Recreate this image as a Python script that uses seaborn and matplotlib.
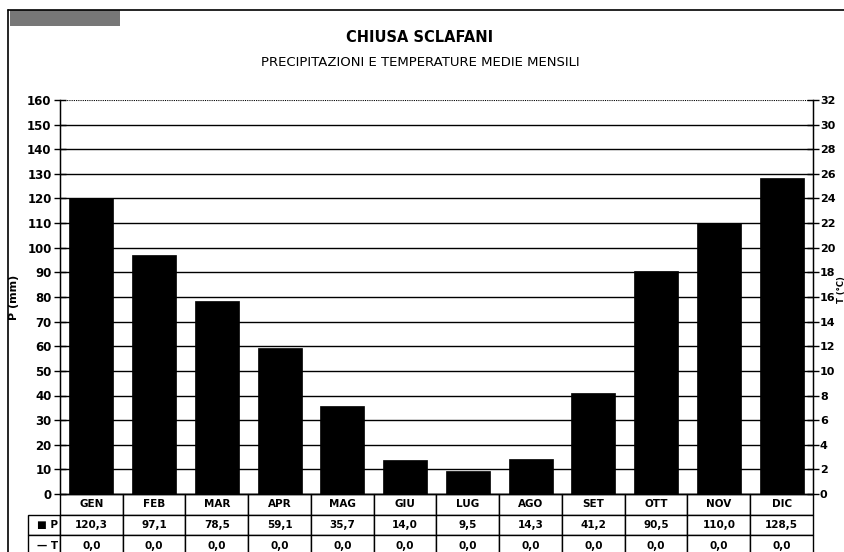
import matplotlib.pyplot as plt
import matplotlib.lines as mlines
import matplotlib.patches as mpatches
import seaborn as sns
import pandas as pd

sns.set_style("white")
plt.rcParams['font.family'] = ['DejaVu Sans']
plt.rcParams['text.color'] = 'black'
plt.rcParams['axes.labelcolor'] = 'black'
plt.rcParams['xtick.color'] = 'black'
plt.rcParams['ytick.color'] = 'black'
plt.rcParams['axes.edgecolor'] = 'black'

# Monthly data - Chiusa Sclafani
months = ['GEN', 'FEB', 'MAR', 'APR', 'MAG', 'GIU', 'LUG', 'AGO', 'SET', 'OTT', 'NOV', 'DIC']
precip = [120.3, 97.1, 78.5, 59.1, 35.7, 14.0, 9.5, 14.3, 41.2, 90.5, 110.0, 128.5]
temp = [0.0] * 12
p_ticks = list(range(0, 161, 10))
t_ticks = list(range(0, 33, 2))

df = pd.DataFrame({'mese': months, 'P': precip, 'T': temp})

fig = plt.figure(figsize=(8.45, 5.52), dpi=100)
ax = fig.add_axes([60 / 845, 1 - 494 / 552, 753 / 845, 394 / 552])

# horizontal grid
for v in p_ticks[1:-1]:
    ax.axhline(v, color='black', lw=1.0, zorder=0)
ax.axhline(160, color='black', lw=0.8, ls=(0, (1, 1)), zorder=0)

sns.barplot(x='mese', y='P', data=df, color='black', width=0.7,
            saturation=1, edgecolor='black', linewidth=0.5, ax=ax, zorder=2)
ax.set_ylim(0, 160)
ax.set_xlim(-0.5, 11.5)
ax.set_yticks(p_ticks)
ax.set_yticklabels([str(t) for t in p_ticks], fontweight='bold', fontsize=8.5)
ax.set_xticks([])
ax.set_xlabel('')
ax.set_ylabel('P (mm)', fontweight='bold', fontsize=8, labelpad=6)
ax.tick_params(axis='y', direction='inout', length=8, width=1, pad=2)
ax.spines['top'].set_visible(False)
ax.spines['left'].set_linewidth(1)
ax.spines['bottom'].set_linewidth(1)

ax2 = ax.twinx()
sns.lineplot(x=range(12), y=temp, color='black', lw=1, ax=ax2)
ax2.set_ylim(0, 32)
ax2.set_yticks(t_ticks)
ax2.set_yticklabels([str(t) for t in t_ticks], fontweight='bold', fontsize=8)
ax2.set_ylabel('T (°C)', fontweight='bold', fontsize=6, rotation=90, va='center')
ax2.yaxis.set_label_coords((841 - 60) / 753, 0.52)
ax2.tick_params(axis='y', direction='inout', length=8, width=1, pad=1)
ax2.spines['top'].set_visible(False)
ax2.spines['right'].set_linewidth(1)

# data table below the chart
cells = [[''] + months,
         ['■ P'] + [f'{v:.1f}'.replace('.', ',') for v in precip],
         ['— T'] + [f'{v:.1f}'.replace('.', ',') for v in temp]]
lab_w = 32 / 753
col_w = [lab_w] + [1 / 12] * 12
tab = ax.table(cellText=cells, colWidths=col_w, cellLoc='center',
               bbox=[-lab_w, -62 / 394, 1 + lab_w, 62 / 394])
tab.auto_set_font_size(False)
tab.set_fontsize(7.5)
for (r, c), cell in tab.get_celld().items():
    cell.set_linewidth(1)
    cell.set_edgecolor('black')
    cell.get_text().set_fontweight('bold')
    cell.get_text().set_color('black')
    if r == 0 and c == 0:
        cell.set_edgecolor('white')
        cell.set_facecolor('none')
    if c == 0:
        cell.get_text().set_ha('right')
        cell.PAD = 0.05

# titles
fig.text(0.497, 1 - 37 / 552, 'CHIUSA SCLAFANI', ha='center', va='center',
         fontsize=10.5, fontweight='bold')
fig.text(0.497, 1 - 62 / 552, 'PRECIPITAZIONI E TEMPERATURE MEDIE MENSILI',
         ha='center', va='center', fontsize=9.5)

# page frame and logo
fig.add_artist(mlines.Line2D([8 / 845, 1], [1 - 10 / 552, 1 - 10 / 552],
                             color='black', lw=1.2))
fig.add_artist(mlines.Line2D([8 / 845, 8 / 845], [0, 1 - 10 / 552],
                             color='black', lw=1.2))
fig.add_artist(mpatches.Rectangle((10 / 845, 1 - 26 / 552), 110 / 845, 16 / 552,
                                  facecolor='#777777', edgecolor='none'))

fig.savefig('out.png', dpi=100)
